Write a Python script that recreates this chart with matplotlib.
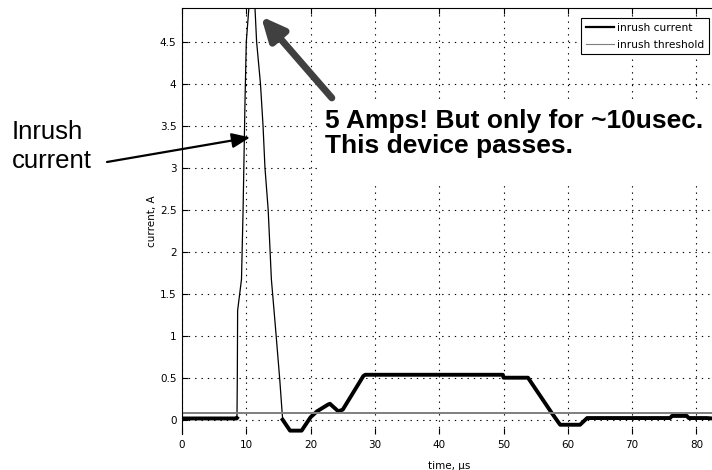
import numpy as np
import matplotlib
matplotlib.use("Agg")
import matplotlib.pyplot as plt
from matplotlib.lines import Line2D
from matplotlib.patches import Rectangle
from matplotlib.ticker import FormatStrFormatter

plt.rcParams['font.family'] = ['Liberation Sans', 'DejaVu Sans']

# inrush current trace (time in us, current in A)
time_us = [0.0, 8.5, 8.55, 8.6, 8.65, 9.25, 9.5, 9.8, 10.0, 10.4, 11.0, 11.35,
           11.6, 12.2, 12.6, 12.9, 13.4, 13.9, 14.5, 15.2, 15.65, 16.8, 18.6,
           20.0, 21.0, 22.7, 23.0, 24.3, 25.0, 28.2, 28.5, 49.9, 50.0, 53.8,
           57.5, 58.8, 61.9, 63.0, 75.9, 76.2, 78.5, 78.8, 81.6, 85.0]
current_a = [0.015, 0.015, 0.02, 0.48, 1.3, 1.67, 2.5, 3.8, 4.5, 4.9, 5.0, 4.9,
             4.5, 4.0, 3.5, 3.0, 2.5, 1.67, 1.13, 0.48, 0.0, -0.13, -0.13,
             0.03, 0.10, 0.18, 0.19, 0.10, 0.12, 0.52, 0.535, 0.535, 0.50, 0.50,
             0.08, -0.06, -0.06, 0.02, 0.02, 0.045, 0.045, 0.02, 0.02, 0.0]
threshold_a = 0.08

x_ticks = [0, 10, 20, 30, 40, 50, 60, 70, 80]
y_ticks = [0, 0.5, 1, 1.5, 2, 2.5, 3, 3.5, 4, 4.5]

t = np.array(time_us)
i = np.array(current_a)

fig = plt.figure(figsize=(7.12, 4.70), dpi=100)
# axes runs off the right edge like the original screenshot
ax = fig.add_axes([182 / 712, 36 / 470, 546.6 / 712, 426 / 470])

# thin trace for the fast spike, heavy for the noisy slow parts
ax.plot(t, i, color='black', lw=0.9, zorder=2)
slow = np.where((t > 8.55) & (t < 15.6), np.nan, i)
ax.plot(t, slow, color='black', lw=2.8, zorder=2)
ax.axhline(threshold_a, color='#7f7f7f', lw=1.4, zorder=2)

ax.set_xlim(0, 85)
ax.set_ylim(-0.17, 4.9)
ax.set_xticks(x_ticks)
ax.set_yticks(y_ticks)
ax.yaxis.set_major_formatter(FormatStrFormatter('%g'))
ax.grid(True, color='black', linestyle=(0, (1.2, 4.5)), lw=0.8)
ax.tick_params(direction='in', length=4, width=0.8, top=True, right=True,
               labelsize=8, pad=4)
for lab in ax.get_xticklabels() + ax.get_yticklabels():
    lab.set_family('DejaVu Sans')
    lab.set_fontsize(7.5)
ax.spines['bottom'].set_visible(False)
ax.set_xlabel('time, µs', fontsize=7.5, family='DejaVu Sans')
ax.xaxis.set_label_coords(0.488, -0.063)
ax.set_ylabel('current, A', fontsize=7.5, family='DejaVu Sans')
ax.yaxis.set_label_coords(-0.045, 0.5)

handles = [Line2D([], [], color='black', lw=1.6),
           Line2D([], [], color='#7f7f7f', lw=0.8)]
leg = fig.legend(handles, ['inrush current', 'inrush threshold'],
                 loc='upper left', bbox_to_anchor=(576 / 712, 1 - 13 / 470),
                 prop={'family': 'DejaVu Sans', 'size': 7.7},
                 handlelength=2.6, handletextpad=0.3,
                 labelspacing=0.6, borderpad=0.45, fancybox=False,
                 framealpha=1, edgecolor='black')
leg.get_frame().set_linewidth(0.8)

# white box behind the callout text
ax.add_patch(Rectangle((21.5, 2.8), 70, 0.99, facecolor='white',
                       edgecolor='none', zorder=2.5))
ax.text(22.2, 3.476, '5 Amps! But only for ~10usec.', fontsize=19,
        fontweight='bold', va='baseline', zorder=3)
ax.text(22.2, 3.18, 'This device passes.', fontsize=19,
        fontweight='bold', va='baseline', zorder=3)

ax.annotate('', xy=(12.3, 4.8), xytext=(23.3, 3.83),
            arrowprops=dict(arrowstyle='-|>,head_length=14,head_width=6.5',
                            mutation_scale=1, lw=5, color='#404040',
                            shrinkA=0, shrinkB=0), zorder=4)

fig.text(12 / 712, 1 - 139 / 470, 'Inrush', fontsize=18.5, va='baseline')
fig.text(12 / 712, 1 - 168 / 470, 'current', fontsize=18.5, va='baseline')
ax.annotate('', xy=(10.6, 3.36), xytext=(107, 308), textcoords='figure pixels',
            arrowprops=dict(arrowstyle='-|>,head_length=11,head_width=4.5',
                            mutation_scale=1, lw=1.6, color='black',
                            shrinkA=0, shrinkB=0), annotation_clip=False,
            zorder=4)

fig.savefig('out.png', dpi=100)
